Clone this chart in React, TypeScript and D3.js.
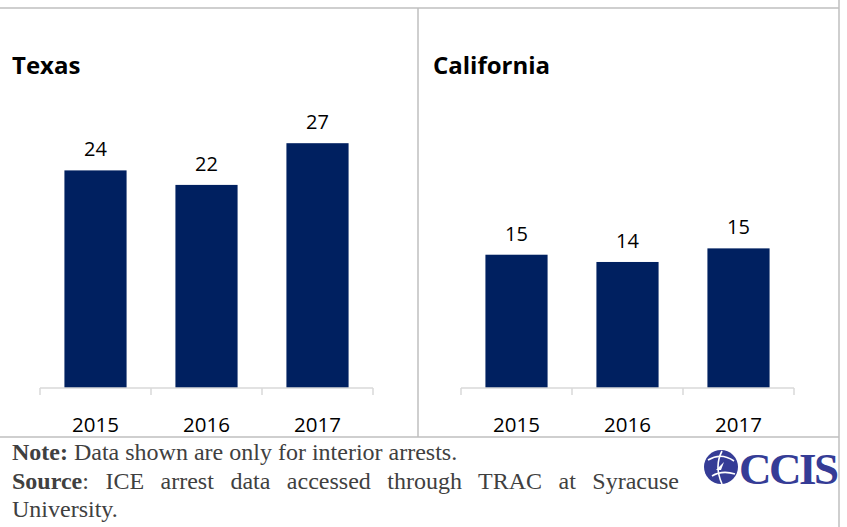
import React, { useEffect, useRef, useState } from "react";
import * as d3 from "d3";

const years = ["2015", "2016", "2017"];
const texasValues = [24, 22.4, 27];
const californiaValues = [14.7, 13.9, 15.4];
const panelTitles = ["Texas", "California"];

const noteLine = "Data shown are only for interior arrests.";
const sourceWords = ["ICE", "arrest", "data", "accessed", "through", "TRAC", "at", "Syracuse"];

const W = 847;
const H = 527;
const barColor = "#002060";
const frameColor = "#bfbfbf";
const sans = "'Open Sans', 'Noto Sans', sans-serif";
const serif = "'Liberation Serif', 'Times New Roman', serif";

const y = d3.scaleLinear().domain([0, 30]).range([388, 116]);

function Panel({ title, values, x0, x1, titleX }: { title: string; values: number[]; x0: number; x1: number; titleX: number }) {
  const x = d3.scaleBand<string>().domain(years).range([x0, x1]).paddingInner(0.44).paddingOuter(0.22);
  const step = x.step();
  const edges = years.map((yr) => (x(yr) as number) - (step * 0.44) / 2);
  edges.push(x1);
  const fmt = d3.format(".0f");
  return (
    <g>
      <text x={titleX} y={74} style={{ fontFamily: sans, fontWeight: 700, fontSize: 24 }} fill="#000">
        {title}
      </text>
      {values.map((v, i) => (
        <rect key={i} x={x(years[i])} y={y(v)} width={x.bandwidth()} height={y(0) - y(v)} fill={barColor} />
      ))}
      {values.map((v, i) => (
        <text
          key={"l" + i}
          x={(x(years[i]) as number) + x.bandwidth() / 2}
          y={y(v) - 14}
          textAnchor="middle"
          style={{ fontFamily: sans, fontSize: 20 }}
          fill="#000"
        >
          {fmt(v)}
        </text>
      ))}
      <line x1={x0} x2={x1} y1={y(0)} y2={y(0)} stroke="#d9d9d9" strokeWidth={1.5} />
      {edges.map((e, i) => (
        <line key={"t" + i} x1={e} x2={e} y1={y(0)} y2={y(0) + 7} stroke="#d9d9d9" strokeWidth={1.5} />
      ))}
      {years.map((yr) => (
        <text
          key={yr}
          x={(x(yr) as number) + x.bandwidth() / 2}
          y={432}
          textAnchor="middle"
          style={{ fontFamily: sans, fontSize: 20.5 }}
          fill="#000"
        >
          {yr}
        </text>
      ))}
    </g>
  );
}

export default function App() {
  const srcRef = useRef<SVGTextElement>(null);
  const [wordSpacing, setWordSpacing] = useState(0);

  useEffect(() => {
    // justify the source line between x=12 and x=679
    const node = srcRef.current;
    if (!node) return;
    const natural = node.getComputedTextLength();
    const gaps = sourceWords.length;
    setWordSpacing(Math.max(0, (667 - natural) / gaps));
  }, []);

  return (
    <svg width={W} height={H} style={{ position: "absolute", left: 0, top: 0, background: "#fff" }}>
      <rect width={W} height={H} fill="#fff" />
      {/* frame */}
      <line x1={0} x2={839} y1={8} y2={8} stroke={frameColor} strokeWidth={1.5} />
      <line x1={839} x2={839} y1={0} y2={H} stroke={frameColor} strokeWidth={1.5} />
      <line x1={418} x2={418} y1={8} y2={437} stroke={frameColor} strokeWidth={1.5} />
      <line x1={0} x2={839} y1={437} y2={437} stroke={frameColor} strokeWidth={1.5} />

      <Panel title={panelTitles[0]} values={texasValues} x0={40} x1={373} titleX={12} />
      <Panel title={panelTitles[1]} values={californiaValues} x0={461} x1={794} titleX={433} />

      {/* footnotes */}
      <text x={12} y={460} style={{ fontFamily: serif, fontSize: 24 }} fill="#404040">
        <tspan fontWeight={700}>Note:</tspan> {noteLine}
      </text>
      <text ref={srcRef} x={12} y={489} style={{ fontFamily: serif, fontSize: 24, wordSpacing }} fill="#404040">
        <tspan fontWeight={700}>Source</tspan>: {sourceWords.join(" ")}
      </text>
      <text x={12} y={517} style={{ fontFamily: serif, fontSize: 24 }} fill="#404040">
        University.
      </text>

      {/* logo */}
      <g>
        <circle cx={721} cy={467} r={17} fill="#353c96" />
        <path d="M708,460 Q721,452 734,461" stroke="#fff" strokeWidth={1.6} fill="none" />
        <path d="M712,476 Q722,470 735,474" stroke="#fff" strokeWidth={1.6} fill="none" />
        <path d="M722,451 Q714,466 722,484" stroke="#fff" strokeWidth={1.6} fill="none" />
        <path d="M716,470 L724,462 L721,470 Z" fill="#fff" />
        <text x={739} y={484} style={{ fontFamily: serif, fontWeight: 700, fontSize: 45, letterSpacing: -2.5 }} fill="#353c96">
          CCIS
        </text>
      </g>
    </svg>
  );
}
